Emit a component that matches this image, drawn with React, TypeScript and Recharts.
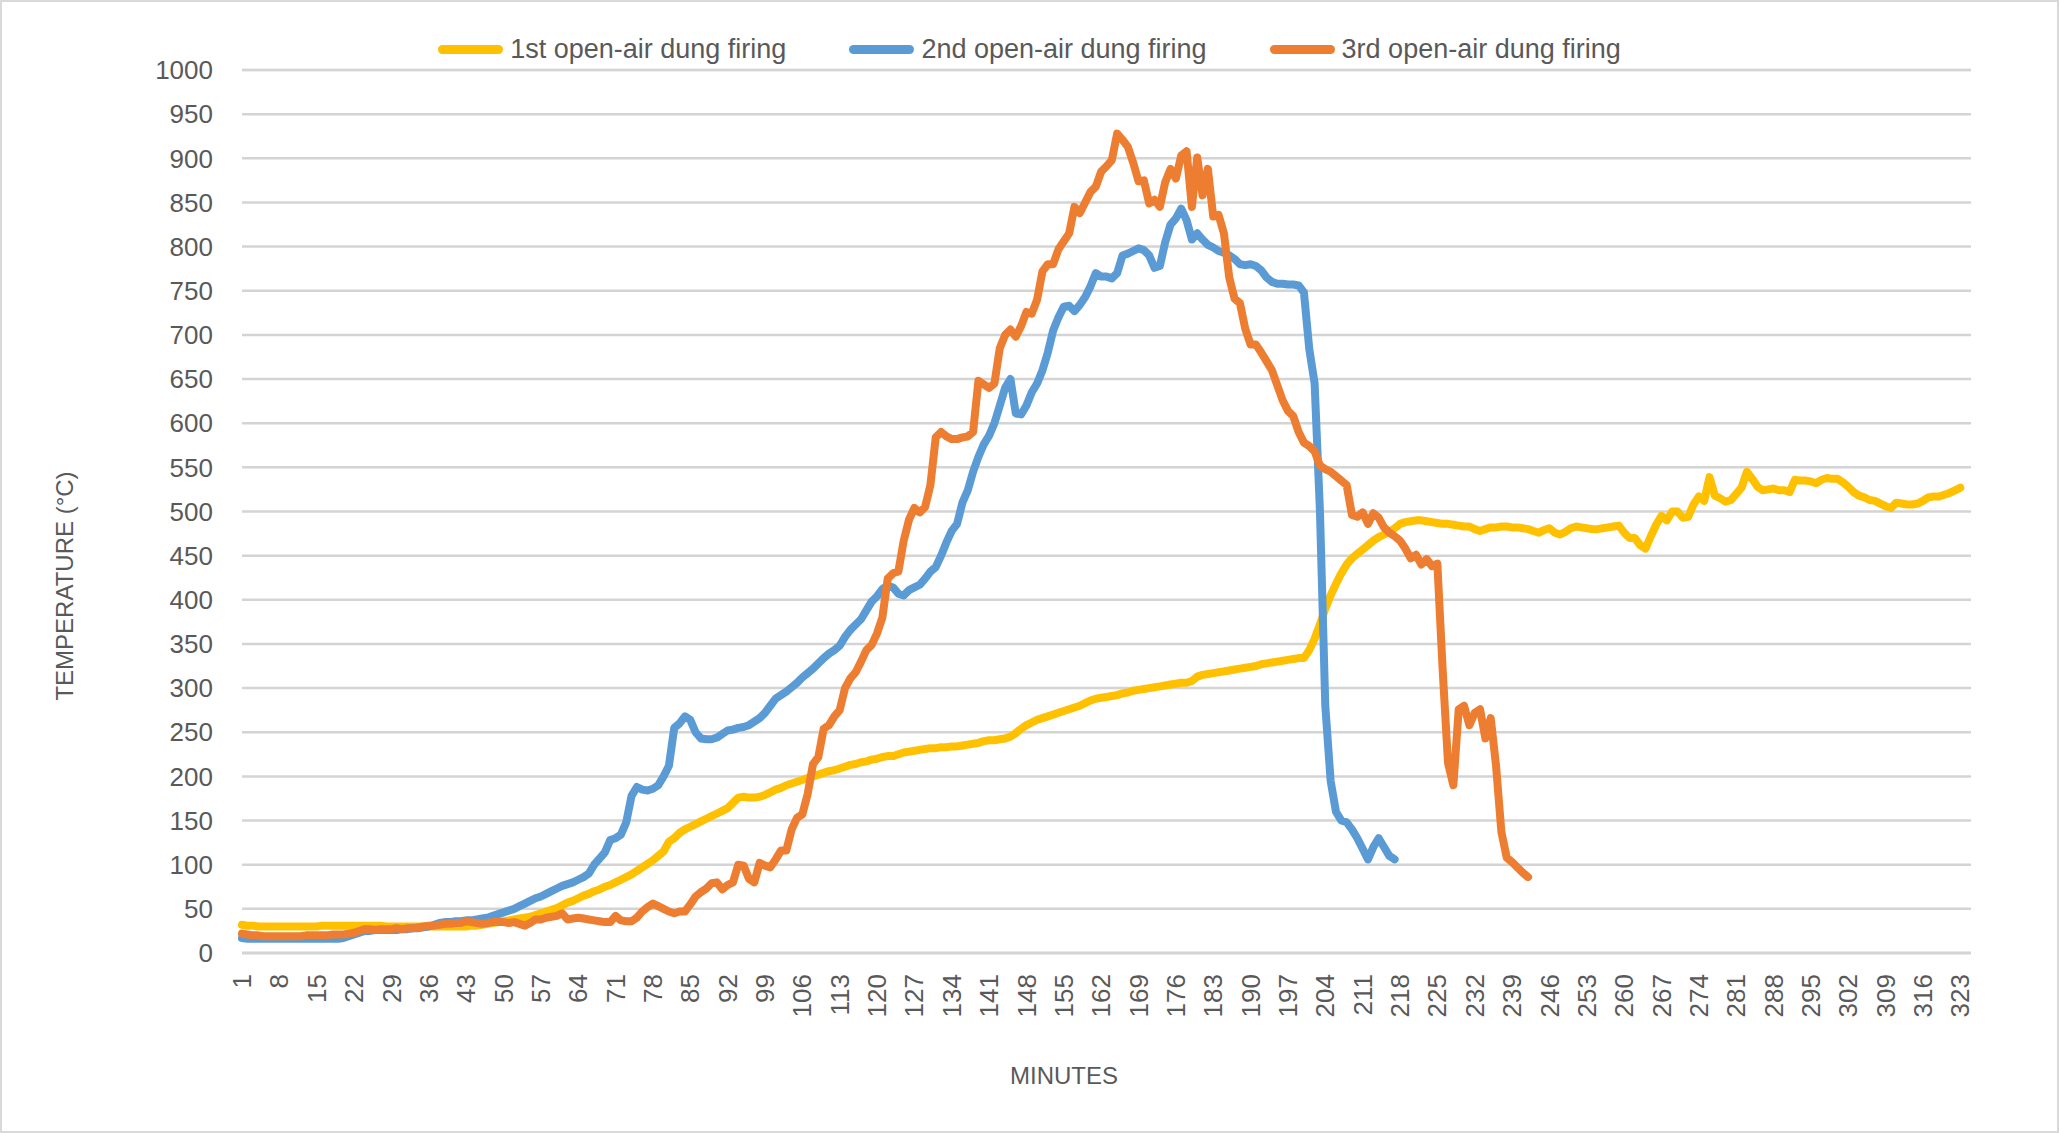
import { LineChart, Line, XAxis, YAxis, CartesianGrid, Legend } from 'recharts'

// minutes on the category axis
const minutes: number[] = Array.from({ length: 325 }, (_, i) => i + 1)

const seriesNames = ['1st open-air dung firing', '2nd open-air dung firing', '3rd open-air dung firing']

// temperatures (°C), one value per minute
const firstFiring = [
  32, 31, 31, 30, 30, 30, 30, 30, 30, 30,
  30, 30, 30, 30, 30, 31, 31, 31, 31, 31,
  31, 31, 31, 31, 31, 31, 31, 30, 30, 30,
  30, 30, 30, 30, 30, 30, 30, 30, 30, 30,
  30, 30, 30, 31, 31, 32, 33, 34, 35, 36,
  37, 38, 39, 40, 41, 43, 45, 47, 49, 51,
  54, 57, 59, 62, 65, 67, 70, 72, 75, 77,
  80, 83, 86, 89, 93, 97, 101, 105, 110, 115,
  126, 130, 136, 140, 143, 146, 149, 152, 155, 158,
  161, 164, 170, 176, 177, 176, 176, 177, 179, 182,
  185, 187, 190, 192, 194, 196, 198, 200, 202, 204,
  206, 207, 209, 211, 213, 214, 216, 217, 219, 220,
  222, 223, 223, 225, 227, 228, 229, 230, 231, 232,
  232, 233, 233, 234, 234, 235, 236, 237, 238, 240,
  241, 241, 242, 243, 245, 249, 254, 258, 261, 264,
  266, 268, 270, 272, 274, 276, 278, 280, 283, 286,
  288, 289, 290, 291, 292, 294, 295, 297, 298, 299,
  300, 301, 302, 303, 304, 305, 306, 306, 308, 313,
  315, 316, 317, 318, 319, 320, 321, 322, 323, 324,
  325, 327, 328, 329, 330, 331, 332, 333, 334, 334,
  343, 356, 372, 390, 405, 418, 430, 440, 447, 452,
  457, 462, 467, 471, 474, 477, 481, 486, 488, 489,
  490, 490, 489, 488, 487, 486, 486, 485, 484, 483,
  483, 480, 478, 480, 482, 482, 483, 483, 482, 482,
  481, 480, 478, 476, 479, 481, 476, 474, 477, 481,
  483, 482, 481, 480, 480, 481, 482, 483, 484, 476,
  470, 470, 462, 458, 472, 485, 495, 490, 500, 500,
  493, 494, 508, 517, 512, 539, 518, 515, 511, 513,
  520, 527, 545, 537, 528, 524, 525, 526, 524, 524,
  522, 536, 535, 535, 534, 532, 536, 538, 537, 537,
  533, 528, 522, 518, 516, 513, 512, 509, 506, 504,
  510, 509, 508, 508, 509, 512, 516, 517, 517, 519,
  521, 524, 527,
]

const secondFiring = [
  17, 16, 16, 16, 16, 16, 16, 16, 16, 16,
  16, 16, 16, 16, 16, 16, 16, 16, 16, 17,
  19, 21, 23, 25, 25, 26, 26, 26, 26, 26,
  27, 27, 28, 28, 29, 30, 32, 34, 35, 35,
  36, 36, 37, 37, 38, 39, 40, 42, 44, 46,
  48, 50, 53, 56, 59, 62, 64, 67, 70, 73,
  76, 78, 80, 83, 86, 90, 100, 107, 114, 128,
  130, 134, 148, 178, 188, 185, 184, 186, 190, 200,
  212, 255, 260, 268, 264, 250, 243, 242, 242, 244,
  248, 252, 253, 255, 256, 258, 262, 266, 272, 280,
  288, 292, 296, 301, 306, 312, 317, 322, 328, 334,
  339, 343, 348, 358, 366, 372, 378, 388, 398, 404,
  412, 416, 414, 407, 405, 411, 414, 417, 424, 432,
  437, 450, 465, 478, 486, 510, 524, 545, 562, 576,
  586, 600, 620, 640, 650, 611, 610, 620, 635, 645,
  660, 680, 705, 720, 732, 733, 727, 734, 743, 755,
  770, 766, 766, 764, 770, 790, 792, 795, 798, 796,
  790, 776, 778, 805, 825, 832, 843, 830, 808, 815,
  808, 802, 799, 795, 793, 790, 786, 780, 779, 780,
  778, 773, 765, 760, 758, 758, 757, 757, 756, 748,
  684, 645, 500, 280, 195, 160, 150, 148, 140, 130,
  118, 106, 120, 130, 120, 110, 106,
]

const thirdFiring = [
  22, 21, 20, 20, 19, 19, 19, 19, 19, 19,
  19, 19, 20, 20, 20, 20, 20, 21, 21, 21,
  22, 23, 25, 27, 27, 26, 27, 27, 27, 28,
  27, 28, 28, 29, 30, 31, 31, 32, 33, 33,
  34, 34, 36, 35, 34, 33, 34, 35, 35, 35,
  34, 35, 33, 31, 34, 38, 38, 40, 41, 42,
  45, 38, 39, 40, 39, 38, 37, 36, 35, 35,
  42, 37, 36, 36, 40, 47, 52, 56, 53, 50,
  47, 45, 47, 47, 55, 64, 69, 73, 79, 80,
  72, 77, 80, 100, 99, 84, 80, 102, 99, 97,
  106, 116, 116, 140, 153, 157, 180, 214, 222, 254,
  258, 268, 275, 300, 311, 318, 330, 343, 349, 362,
  380, 424, 430, 432, 467, 491, 504, 499, 505, 530,
  584, 590, 585, 582, 582, 584, 585, 590, 648, 644,
  640, 645, 685, 700, 706, 698, 710, 726, 724, 740,
  772, 780, 780, 797, 806, 815, 845, 838, 850, 862,
  868, 885, 891, 898, 928, 921, 913, 895, 874, 875,
  849, 853, 845, 873, 888, 877, 903, 908, 845, 901,
  858, 888, 834, 836, 815, 765, 741, 736, 707, 689,
  689, 680, 670, 660, 643, 626, 614, 608, 590, 578,
  574, 568, 552, 548, 545, 540, 535, 530, 496, 494,
  499, 486, 498, 493, 482, 476, 472, 467, 458, 447,
  451, 440, 446, 438, 441, 320, 215, 190, 276, 280,
  258, 272, 276, 243, 266, 212, 137, 108, 103, 97,
  91, 86,
]

const yTicks = [0, 50, 100, 150, 200, 250, 300, 350, 400, 450, 500, 550, 600, 650, 700, 750, 800, 850, 900, 950, 1000]
// light lines every 10 degrees between the labelled ones
const minorTicks = Array.from({ length: 101 }, (_, i) => i * 10).filter((v) => v % 50 !== 0)

const colors = ['#FFC000', '#5B9BD5', '#ED7D31']
const font = '"Liberation Sans", Arial, sans-serif'
const textGray = '#595959'

const data = minutes.map((m, i) => ({
  minute: m,
  first: firstFiring[i] ?? null,
  second: secondFiring[i] ?? null,
  third: thirdFiring[i] ?? null,
}))

// eslint-disable-next-line @typescript-eslint/no-explicit-any
function MinuteTick({ x, y, payload }: any) {
  return (
    <g transform={`translate(${x},${y})`}>
      <text transform="rotate(-90)" x={-21} y={0} dy="0.35em" textAnchor="end" fill={textGray} fontSize={26} fontFamily={font}>
        {payload.value}
      </text>
    </g>
  )
}

// eslint-disable-next-line @typescript-eslint/no-explicit-any
function FiringLegend({ payload }: any) {
  return (
    <div style={{ display: 'flex', justifyContent: 'center', gap: 63, fontFamily: font, fontSize: 27, color: textGray }}>
      {/* eslint-disable-next-line @typescript-eslint/no-explicit-any */}
      {(payload ?? []).map((item: any) => (
        <div key={item.value} style={{ display: 'flex', alignItems: 'center', gap: 7 }}>
          <span style={{ display: 'inline-block', width: 65, height: 9, borderRadius: 5, background: item.color }} />
          <span>{item.value}</span>
        </div>
      ))}
    </div>
  )
}

export default function App() {
  return (
    <div
      style={{
        position: 'absolute',
        left: 0,
        top: 0,
        width: 2059,
        height: 1133,
        boxSizing: 'border-box',
        border: '2px solid #d9d9d9',
        background: '#fff',
        fontFamily: font,
      }}
    >
      <div style={{ position: 'absolute', left: -2, top: -2 }}>
        <LineChart width={2059} height={1133} data={data} margin={{ top: 70, right: 88, bottom: 40, left: 142 }}>
          <YAxis yAxisId="minor" domain={[0, 1000]} ticks={minorTicks} hide />
          <CartesianGrid yAxisId="minor" vertical={false} stroke="#e6e6e6" strokeWidth={2.5} />
          <CartesianGrid vertical={false} stroke="#d4d4d4" strokeWidth={2.5} />
          <XAxis
            dataKey="minute"
            type="category"
            interval={6}
            height={140}
            tickSize={0}
            tickMargin={0}
            tickLine={false}
            axisLine={{ stroke: '#d4d4d4', strokeWidth: 2.5 }}
            tick={<MinuteTick />}
          />
          <YAxis
            domain={[0, 1000]}
            ticks={yTicks}
            width={100}
            axisLine={false}
            tickLine={false}
            tickMargin={23}
            tick={{ fill: textGray, fontSize: 26, fontFamily: font }}
          />
          <Legend verticalAlign="middle" layout="horizontal" wrapperStyle={{ top: 34, left: 0, width: 2059 }} content={<FiringLegend />} />
          <Line dataKey="first" name={seriesNames[0]} stroke={colors[0]} strokeWidth={8} dot={false} strokeLinecap="round" strokeLinejoin="round" isAnimationActive={false} />
          <Line dataKey="second" name={seriesNames[1]} stroke={colors[1]} strokeWidth={8} dot={false} strokeLinecap="round" strokeLinejoin="round" isAnimationActive={false} />
          <Line dataKey="third" name={seriesNames[2]} stroke={colors[2]} strokeWidth={8} dot={false} strokeLinecap="round" strokeLinejoin="round" isAnimationActive={false} />
        </LineChart>
      </div>
      <div style={{ position: 'absolute', left: 1062, top: 1074, transform: 'translate(-50%, -50%)', fontSize: 24, color: textGray, whiteSpace: 'nowrap' }}>
        MINUTES
      </div>
      <div
        style={{
          position: 'absolute',
          left: 63,
          top: 584,
          transform: 'translate(-50%, -50%) rotate(-90deg)',
          fontSize: 24,
          color: textGray,
          whiteSpace: 'nowrap',
        }}
      >
        TEMPERATURE (°C)
      </div>
    </div>
  )
}
